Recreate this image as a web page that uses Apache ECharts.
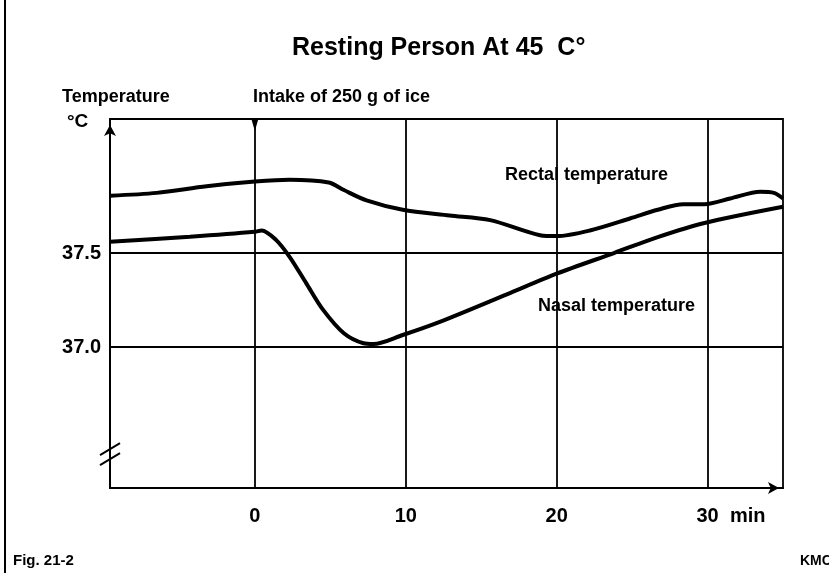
<!DOCTYPE html>
<html><head><meta charset="utf-8">
<script src="https://cdn.jsdelivr.net/npm/echarts@6/dist/echarts.min.js"></script>
<style>html,body{margin:0;padding:0;background:#fff}#c{width:829px;height:573px}</style>
</head><body><div id="c"></div>
<script>
// ---- data ----
const xTicks = [0, 10, 20, 30];
const yTicks = [37.0, 37.5];
const rectalTime = [-9.6, -6.5, -3.2, 0, 2.3, 4.9, 5.9, 7.4, 9.8, 12.9, 15.6, 18.9, 20.0, 22.2, 24.9, 26.7, 28.4, 29.8, 31.5, 33.5, 34.4, 35.0];
const rectalTemp = [37.805, 37.82, 37.855, 37.88, 37.89, 37.875, 37.835, 37.78, 37.73, 37.70, 37.675, 37.595, 37.59, 37.62, 37.685, 37.73, 37.76, 37.76, 37.79, 37.826, 37.82, 37.79];
const nasalTime = [-9.6, -4.3, 0, 0.45, 1.4, 2.3, 3.4, 4.5, 5.9, 7.2, 7.85, 9.8, 12.3, 16.7, 20.0, 23.8, 26.7, 29.8, 35.0];
const nasalTemp = [37.56, 37.587, 37.613, 37.62, 37.57, 37.48, 37.34, 37.20, 37.073, 37.02, 37.016, 37.064, 37.135, 37.28, 37.39, 37.50, 37.585, 37.66, 37.746];
const xMin = -9.6, xMax = 35;
const yMin = 36.25, yMax = 38.213;
const breakValue = 36.43;

const titleText = 'Resting Person At 45  C°';
const yName = 'Temperature';
const eventText = 'Intake of 250 g of ice';
const unitText = '°C';
const rectalLabel = 'Rectal temperature';
const nasalLabel = 'Nasal temperature';
const xUnit = 'min';
const figText = 'Fig. 21-2';
const creditText = 'KMC';

const FONT = '"Liberation Sans", Arial, sans-serif';
const chart = echarts.init(document.getElementById('c'), null, {renderer: 'canvas'});

function zip(a, b) { return a.map((v, i) => [v, b[i]]); }
function inList(list, v) { return list.some(t => Math.abs(t - v) < 1e-6); }

const txt = (text, x, y, size) => ({
  type: 'text', x: x, y: y,
  style: {text: text, fill: '#000', font: 'bold ' + size + 'px ' + FONT, textAlign: 'left', textVerticalAlign: 'middle'}
});

const option = {
  backgroundColor: '#fff',
  animation: false,
  title: {
    text: titleText, left: 287, top: 31,
    textStyle: {fontFamily: FONT, fontWeight: 'bold', fontSize: 25, color: '#000'}
  },
  grid: {left: 110, top: 119, right: 46, bottom: 85, show: true, borderColor: '#000', borderWidth: 1.8, backgroundColor: 'transparent'},
  xAxis: {
    type: 'value', min: xMin, max: xMax,
    axisLine: {show: true, onZero: false, lineStyle: {color: '#000', width: 2}, symbol: ['none', 'arrow'], symbolSize: [9, 11], symbolOffset: [0, -4]},
    axisTick: {show: false},
    splitLine: {show: false},
    axisLabel: {
      customValues: xTicks,
      formatter: v => inList(xTicks, v) ? String(Math.round(v)) : '',
      color: '#000', fontFamily: FONT, fontWeight: 'bold', fontSize: 20, margin: 18
    }
  },
  yAxis: {
    type: 'value', min: yMin, max: yMax,
    axisLine: {show: true, onZero: false, lineStyle: {color: '#000', width: 2}, symbol: ['none', 'arrow'], symbolSize: [9, 11], symbolOffset: [0, -6]},
    axisTick: {show: false},
    splitLine: {show: false},
    axisLabel: {
      customValues: yTicks,
      formatter: v => inList(yTicks, v) ? v.toFixed(1) : '',
      color: '#000', fontFamily: FONT, fontWeight: 'bold', fontSize: 20, margin: 9
    }
  },
  series: [
    {
      name: rectalLabel, type: 'line', data: zip(rectalTime, rectalTemp),
      smooth: 0.3, showSymbol: false, symbol: 'none',
      lineStyle: {color: '#000', width: 4}, z: 5,
      markLine: {
        silent: true, symbol: 'none', animation: false,
        lineStyle: {color: '#000', width: 1.8, type: 'solid'},
        label: {show: false},
        data: xTicks.map(v => ({xAxis: v})).concat(yTicks.map(v => ({yAxis: v})))
      },
      markPoint: {
        silent: true, symbol: 'triangle', symbolRotate: 180, symbolSize: [7, 12], symbolOffset: [0, 6],
        itemStyle: {color: '#000'}, label: {show: false},
        data: [{coord: [xTicks[0], yMax]}]
      }
    },
    {
      name: nasalLabel, type: 'line', data: zip(nasalTime, nasalTemp),
      smooth: 0.3, showSymbol: false, symbol: 'none',
      lineStyle: {color: '#000', width: 4}, z: 5
    }
  ],
  graphic: [
    {type: 'line', shape: {x1: 5, y1: 0, x2: 5, y2: 573}, style: {stroke: '#000', lineWidth: 2}},
    txt(yName, 62, 97, 18),
    txt(eventText, 253, 97, 18),
    txt(unitText, 67, 122, 19),
    txt(rectalLabel, 505, 175, 18),
    txt(nasalLabel, 538, 306, 18),
    txt(xUnit, 730, 516, 20),
    txt(figText, 13, 561, 15),
    txt(creditText, 800, 561, 14)
  ]
};
chart.setOption(option);

// axis-break marks on the y axis, anchored through the axis scale
const bp = chart.convertToPixel({gridIndex: 0}, [xMin, breakValue]);
chart.setOption({
  graphic: option.graphic.concat([
    {type: 'line', shape: {x1: bp[0] - 10, y1: bp[1] + 1, x2: bp[0] + 10, y2: bp[1] - 11}, style: {stroke: '#000', lineWidth: 2}},
    {type: 'line', shape: {x1: bp[0] - 10, y1: bp[1] + 11, x2: bp[0] + 10, y2: bp[1] - 1}, style: {stroke: '#000', lineWidth: 2}}
  ])
});
</script></body></html>
